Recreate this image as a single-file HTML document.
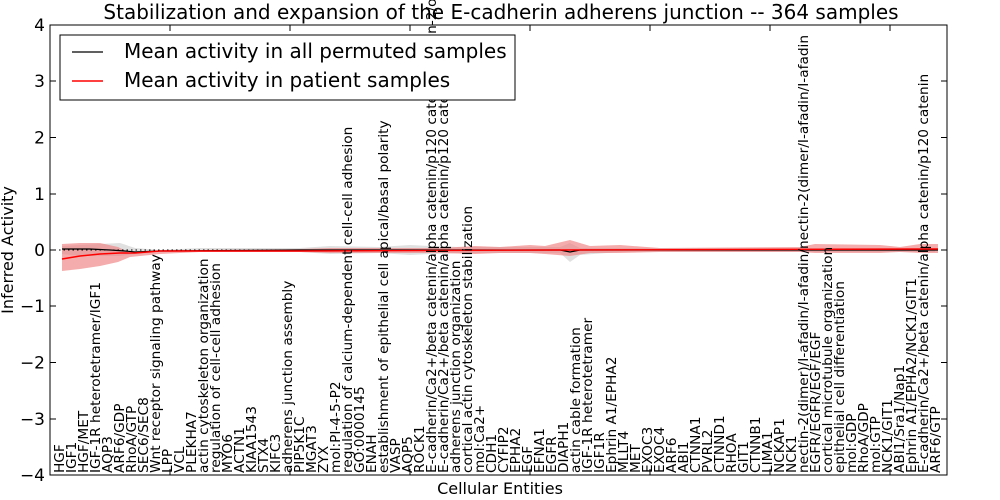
<!DOCTYPE html>
<html><head><meta charset="utf-8"><style>
html,body{margin:0;padding:0;background:#fff;}
svg{display:block;font-family:"DejaVu Sans","Liberation Sans",sans-serif;}
</style></head><body>
<svg width="1000" height="500" viewBox="0 0 1000 500" xmlns="http://www.w3.org/2000/svg">
<rect width="1000" height="500" fill="#fff"/>
<text x="501" y="19" font-size="20" text-anchor="middle">Stabilization and expansion of the E-cadherin adherens junction -- 364 samples</text>
<!-- bands -->
<path d="M62,246 L80,245 L100,244 L120,243 L135,248 L160,250 L200,248 L300,248 L330,246 L380,247 L410,245 L430,246 L460,247 L560,247 L570,243 L580,248 L620,248 L935,248 L935,252 L620,252 L580,255 L570,262 L560,253 L460,253 L430,254 L410,255 L380,253 L330,254 L300,252 L200,252 L160,252 L135,254 L120,256 L100,256 L80,256 L62,254 Z" fill="#d8d8d8" opacity="0.8"/>
<path d="M62,244 L80,243 L100,243 L118,247 L130,253 L160,252 L200,250 L300,249 L330,248 L440,248 L475,246 L500,247 L530,245 L545,246 L570,240 L590,246 L620,245 L660,248 L800,247 L815,244 L880,245 L900,247 L920,244 L938,244 L938,253 L920,253 L900,252 L880,253 L815,253 L800,252 L660,252 L620,253 L590,253 L570,256 L545,254 L530,253 L500,253 L475,254 L440,253 L330,253 L300,252 L200,252 L160,254 L130,257 L118,262 L100,266 L80,269 L62,271 Z" fill="#f08080" opacity="0.65"/>
<line x1="50" y1="250" x2="947" y2="250" stroke="#000" stroke-width="1" stroke-dasharray="1.5,3"/>
<polyline points="62,249 90,249 110,250 125,251 135,252 160,251 300,250 560,250 570,252 580,250 938,250" fill="none" stroke="#000" stroke-width="1.2"/>
<polyline points="62,259 80,256 100,254 120,253 135,253 160,251 300,251 560,250 938,249" fill="none" stroke="#f00" stroke-width="1.4"/>
<rect x="50" y="25" width="897" height="450" fill="none" stroke="#000" stroke-width="1"/>
<g stroke="#000" stroke-width="1">
<line x1="50" y1="81" x2="56" y2="81"/><line x1="50" y1="137.5" x2="56" y2="137.5"/><line x1="50" y1="194" x2="56" y2="194"/><line x1="50" y1="250" x2="56" y2="250"/><line x1="50" y1="306" x2="56" y2="306"/><line x1="50" y1="362.5" x2="56" y2="362.5"/><line x1="50" y1="419" x2="56" y2="419"/>
<line x1="941" y1="81" x2="947" y2="81"/><line x1="941" y1="137.5" x2="947" y2="137.5"/><line x1="941" y1="194" x2="947" y2="194"/><line x1="941" y1="250" x2="947" y2="250"/><line x1="941" y1="306" x2="947" y2="306"/><line x1="941" y1="362.5" x2="947" y2="362.5"/><line x1="941" y1="419" x2="947" y2="419"/>
<line x1="170" y1="25" x2="170" y2="31"/><line x1="290" y1="25" x2="290" y2="31"/><line x1="410" y1="25" x2="410" y2="31"/><line x1="530" y1="25" x2="530" y2="31"/><line x1="650" y1="25" x2="650" y2="31"/><line x1="770" y1="25" x2="770" y2="31"/><line x1="890" y1="25" x2="890" y2="31"/>
<line x1="170" y1="475" x2="170" y2="469"/><line x1="290" y1="475" x2="290" y2="469"/><line x1="410" y1="475" x2="410" y2="469"/><line x1="530" y1="475" x2="530" y2="469"/><line x1="650" y1="475" x2="650" y2="469"/><line x1="770" y1="475" x2="770" y2="469"/><line x1="890" y1="475" x2="890" y2="469"/>
</g>
<g font-size="17" text-anchor="end">
<text x="45" y="31">4</text><text x="45" y="87">3</text><text x="45" y="143.5">2</text><text x="45" y="200">1</text><text x="45" y="256">0</text><text x="45" y="312">−1</text><text x="45" y="368.5">−2</text><text x="45" y="425">−3</text><text x="45" y="481">−4</text>
</g>
<text x="0" y="0" font-size="16" text-anchor="middle" transform="translate(13,250) rotate(-90)">Inferred Activity</text>
<text x="500" y="494" font-size="16" text-anchor="middle">Cellular Entities</text>
<g font-size="13.7">
<text transform="translate(64,473) rotate(-90)">HGF</text>
<text transform="translate(76,473) rotate(-90)">IGF1</text>
<text transform="translate(88,473) rotate(-90)">HGF/MET</text>
<text transform="translate(100,473) rotate(-90)">IGF-1R heterotetramer/IGF1</text>
<text transform="translate(112,473) rotate(-90)">AQP3</text>
<text transform="translate(124,473) rotate(-90)">ARF6/GDP</text>
<text transform="translate(136,473) rotate(-90)">RhoA/GTP</text>
<text transform="translate(148,473) rotate(-90)">SEC6/SEC8</text>
<text transform="translate(160,473) rotate(-90)">Wnt receptor signaling pathway</text>
<text transform="translate(172,473) rotate(-90)">LPP</text>
<text transform="translate(184,473) rotate(-90)">VCL</text>
<text transform="translate(196,473) rotate(-90)">PLEKHA7</text>
<text transform="translate(208,473) rotate(-90)">actin cytoskeleton organization</text>
<text transform="translate(220,473) rotate(-90)">regulation of cell-cell adhesion</text>
<text transform="translate(232,473) rotate(-90)">MYO6</text>
<text transform="translate(244,473) rotate(-90)">ACTN1</text>
<text transform="translate(256,473) rotate(-90)">KIAA1543</text>
<text transform="translate(268,473) rotate(-90)">STX4</text>
<text transform="translate(280,473) rotate(-90)">KIFC3</text>
<text transform="translate(292,473) rotate(-90)">adherens junction assembly</text>
<text transform="translate(304,473) rotate(-90)">PIP5K1C</text>
<text transform="translate(316,473) rotate(-90)">MGAT3</text>
<text transform="translate(328,473) rotate(-90)">ZYX</text>
<text transform="translate(340,473) rotate(-90)">mol:PI-4-5-P2</text>
<text transform="translate(352,473) rotate(-90)">regulation of calcium-dependent cell-cell adhesion</text>
<text transform="translate(364,473) rotate(-90)">GO:0000145</text>
<text transform="translate(376,473) rotate(-90)">ENAH</text>
<text transform="translate(388,473) rotate(-90)">establishment of epithelial cell apical/basal polarity</text>
<text transform="translate(400,473) rotate(-90)">VASP</text>
<text transform="translate(412,473) rotate(-90)">AQP5</text>
<text transform="translate(424,473) rotate(-90)">ROCK1</text>
<text transform="translate(436,473) rotate(-90)">E-cadherin/Ca2+/beta catenin/alpha catenin/p120 catenin/Nectin-2/o</text>
<text transform="translate(448,473) rotate(-90)">E-cadherin/Ca2+/beta catenin/alpha catenin/p120 catenin/NM</text>
<text transform="translate(460,473) rotate(-90)">adherens junction organization</text>
<text transform="translate(472,473) rotate(-90)">cortical actin cytoskeleton stabilization</text>
<text transform="translate(484,473) rotate(-90)">mol:Ca2+</text>
<text transform="translate(496,473) rotate(-90)">CDH1</text>
<text transform="translate(508,473) rotate(-90)">CYFIP2</text>
<text transform="translate(520,473) rotate(-90)">EPHA2</text>
<text transform="translate(532,473) rotate(-90)">EGF</text>
<text transform="translate(544,473) rotate(-90)">EFNA1</text>
<text transform="translate(556,473) rotate(-90)">EGFR</text>
<text transform="translate(568,473) rotate(-90)">DIAPH1</text>
<text transform="translate(580,473) rotate(-90)">actin cable formation</text>
<text transform="translate(592,473) rotate(-90)">IGF-1R heterotetramer</text>
<text transform="translate(604,473) rotate(-90)">IGF1R</text>
<text transform="translate(616,473) rotate(-90)">Ephrin A1/EPHA2</text>
<text transform="translate(628,473) rotate(-90)">MLLT4</text>
<text transform="translate(640,473) rotate(-90)">MET</text>
<text transform="translate(652,473) rotate(-90)">EXOC3</text>
<text transform="translate(664,473) rotate(-90)">EXOC4</text>
<text transform="translate(676,473) rotate(-90)">ARF6</text>
<text transform="translate(688,473) rotate(-90)">ABI1</text>
<text transform="translate(700,473) rotate(-90)">CTNNA1</text>
<text transform="translate(712,473) rotate(-90)">PVRL2</text>
<text transform="translate(724,473) rotate(-90)">CTNND1</text>
<text transform="translate(736,473) rotate(-90)">RHOA</text>
<text transform="translate(748,473) rotate(-90)">GIT1</text>
<text transform="translate(760,473) rotate(-90)">CTNNB1</text>
<text transform="translate(772,473) rotate(-90)">LIMA1</text>
<text transform="translate(784,473) rotate(-90)">NCKAP1</text>
<text transform="translate(796,473) rotate(-90)">NCK1</text>
<text transform="translate(808,473) rotate(-90)">nectin-2(dimer)/I-afadin/I-afadin/nectin-2(dimer/I-afadin/I-afadin</text>
<text transform="translate(820,473) rotate(-90)">EGFR/EGFR/EGF/EGF</text>
<text transform="translate(832,473) rotate(-90)">cortical microtubule organization</text>
<text transform="translate(844,473) rotate(-90)">epithelial cell differentiation</text>
<text transform="translate(856,473) rotate(-90)">mol:GDP</text>
<text transform="translate(868,473) rotate(-90)">RhoA/GDP</text>
<text transform="translate(880,473) rotate(-90)">mol:GTP</text>
<text transform="translate(892,473) rotate(-90)">NCK1/GIT1</text>
<text transform="translate(904,473) rotate(-90)">ABI1/Sra1/Nap1</text>
<text transform="translate(916,473) rotate(-90)">Ephrin A1/EPHA2/NCK1/GIT1</text>
<text transform="translate(928,473) rotate(-90)">E-cadherin/Ca2+/beta catenin/alpha catenin/p120 catenin</text>
<text transform="translate(940,473) rotate(-90)">ARF6/GTP</text>
</g>
<rect x="60" y="35" width="455" height="65" fill="#fff" stroke="#000" stroke-width="1"/>
<line x1="72" y1="52" x2="103" y2="52" stroke="#000" stroke-width="1.2"/>
<line x1="72" y1="81" x2="103" y2="81" stroke="#f00" stroke-width="1.4"/>
<text x="124" y="58" font-size="20">Mean activity in all permuted samples</text>
<text x="124" y="87" font-size="20">Mean activity in patient samples</text>
</svg>
</body></html>
